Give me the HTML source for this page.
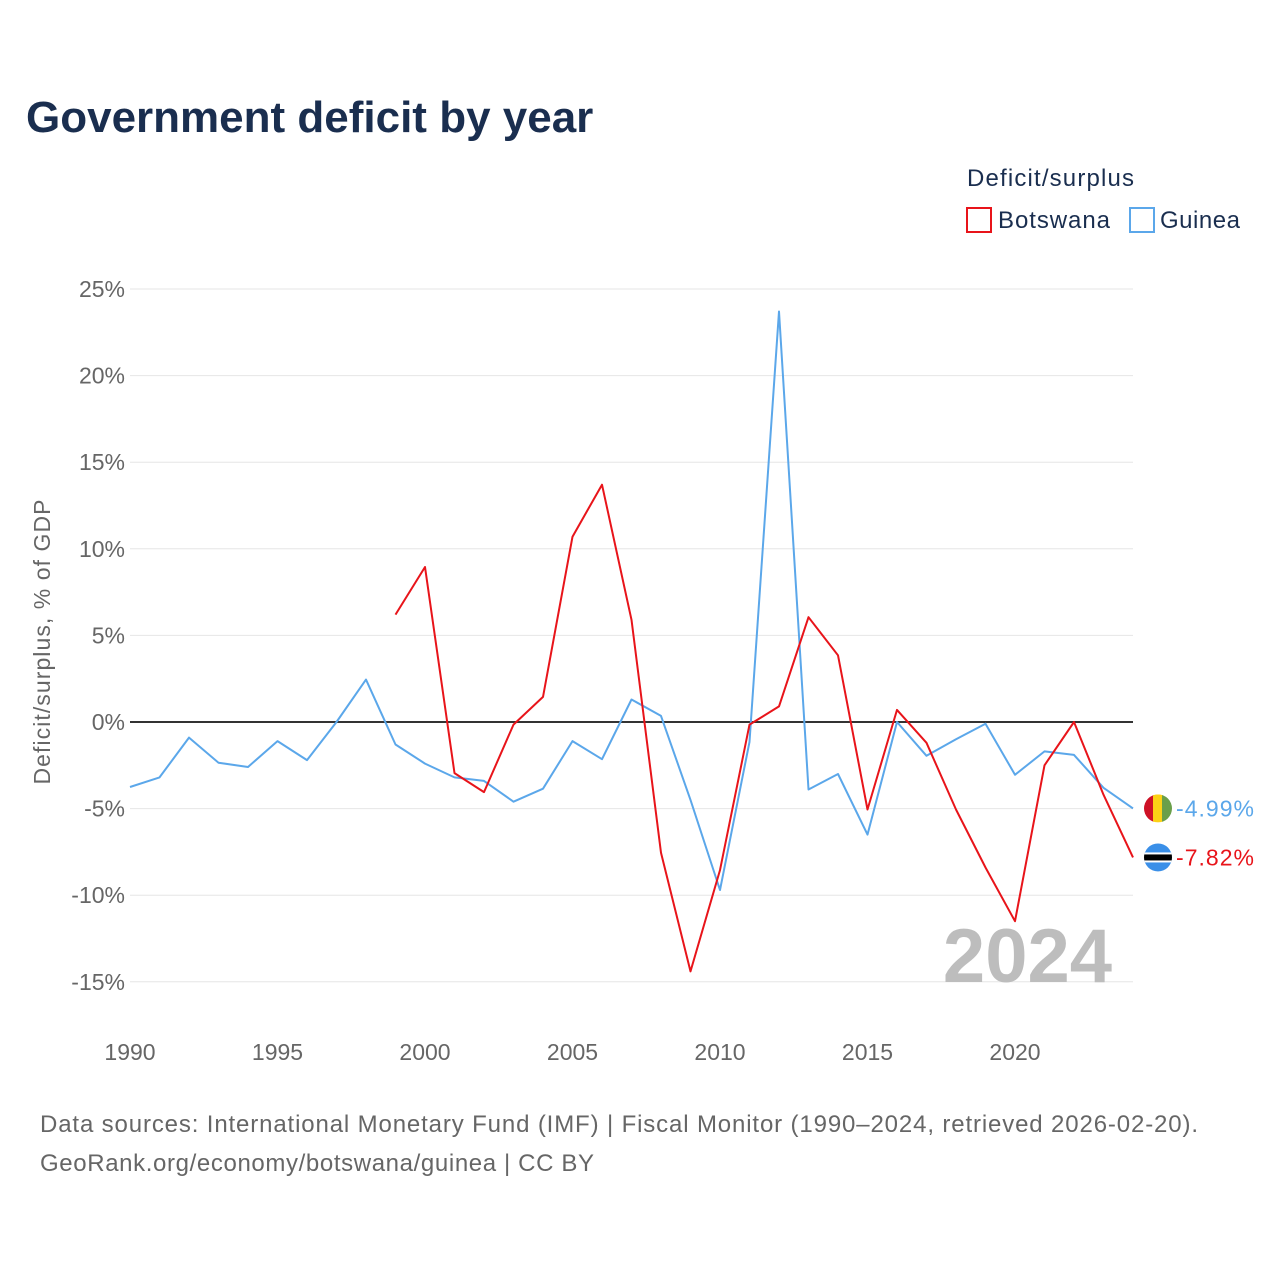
<!DOCTYPE html>
<html><head><meta charset="utf-8">
<style>
body{margin:0;background:#fff;font-family:"Liberation Sans",sans-serif;}
#wrap{position:relative;width:1280px;height:1280px;}
</style></head>
<body>
<div id="wrap">
<svg id="chart" width="1280" height="1280" xmlns="http://www.w3.org/2000/svg">
<text x="26" y="132" font-size="44" font-weight="bold" fill="#1a2e4f">Government deficit by year</text>
<text x="967" y="186" font-size="24" fill="#1a2e4f" textLength="167">Deficit/surplus</text>
<g><rect x="967" y="208" width="24" height="24" fill="none" stroke="#e8141a" stroke-width="2"/><text x="998" y="228" font-size="24" fill="#1a2e4f" textLength="112">Botswana</text></g>
<g><rect x="1130" y="208" width="24" height="24" fill="none" stroke="#5ba7ea" stroke-width="2"/><text x="1160" y="228" font-size="24" fill="#1a2e4f" textLength="80">Guinea</text></g>
<text transform="translate(50,642) rotate(-90)" text-anchor="middle" font-size="23" fill="#666" textLength="285">Deficit/surplus, % of GDP</text>
<g id="grid"></g><g id="yt"></g><g id="xt"></g>
<text x="1112" y="982" text-anchor="end" font-size="76" font-weight="bold" fill="#bdbdbd">2024</text>
<g id="series"></g>
<text x="40" y="1132" font-size="24" fill="#666" textLength="1158">Data sources: International Monetary Fund (IMF) | Fiscal Monitor (1990–2024, retrieved 2026-02-20).</text>
<text x="40" y="1171" font-size="24" fill="#666" textLength="554">GeoRank.org/economy/botswana/guinea | CC BY</text>
</svg>
</div>
<script>
const years=[];for(let y=1990;y<=2024;y++)years.push(y);
const guinea=[-3.75,-3.2,-0.9,-2.35,-2.6,-1.1,-2.2,0,2.45,-1.3,-2.4,-3.2,-3.4,-4.6,-3.85,-1.1,-2.15,1.3,0.35,-4.5,-9.7,-1.15,23.7,-3.9,-3.0,-6.5,0,-1.95,-1.0,-0.1,-3.05,-1.7,-1.9,-3.8,-4.99];
const botswana=[null,null,null,null,null,null,null,null,null,6.2,8.95,-2.95,-4.05,-0.15,1.45,10.7,13.7,5.9,-7.55,-14.4,-8.55,-0.15,0.9,6.05,3.85,-5.05,0.7,-1.2,-5.05,-8.4,-11.5,-2.5,0.0,-4.2,-7.82];
const yTicks=[25,20,15,10,5,0,-5,-10,-15];
const xTicks=[1990,1995,2000,2005,2010,2015,2020];
const NS="http://www.w3.org/2000/svg";
const X=y=>130+(y-1990)*(1133-130)/34;
const Y=v=>722-v*(433/25);
function mk(t,a,p){const e=document.createElementNS(NS,t);for(const k in a)e.setAttribute(k,a[k]);p.appendChild(e);return e;}
const grid=document.getElementById('grid'),yt=document.getElementById('yt'),xt=document.getElementById('xt'),ser=document.getElementById('series');
yTicks.forEach(v=>{
 const l=mk('line',{x1:130,x2:1133,y1:Y(v),y2:Y(v),stroke:v===0?'#333':'#e6e6e6','stroke-width':v===0?2:1},grid);
 
 
 const t=mk('text',{x:125,y:Y(v)+8,'text-anchor':'end','font-size':23,fill:'#666'},yt);t.textContent=v+'%';
 
 
});
xTicks.forEach(v=>{
 const t=mk('text',{x:X(v),y:1060,'text-anchor':'middle','font-size':23,fill:'#666'},xt);t.textContent=v;
 
 
});
function line(data,color,name){
 let d='';data.forEach((v,i)=>{if(v===null)return;d+=(d?'L':'M')+X(years[i]).toFixed(1)+','+Y(v).toFixed(1);});
 const p=mk('path',{d:d,fill:'none',stroke:color,'stroke-width':2,'stroke-linejoin':'round'},ser);
 
 
}
line(guinea,'#5ba7ea','guinea-line');
line(botswana,'#e8141a','botswana-line');
function endLabel(v,color,name,flag){
 const y=Y(v);
 const g=mk('g',{},ser);
 
 
 if(flag==='gn'){
  mk('clipPath',{id:'cg'},g);mk('circle',{cx:1158,cy:y,r:14},g.lastChild);
  const f=mk('g',{'clip-path':'url(#cg)'},g);
  mk('rect',{x:1144,y:y-14,width:10,height:28,fill:'#ce1126'},f);
  mk('rect',{x:1153,y:y-14,width:10,height:28,fill:'#fcd116'},f);
  mk('rect',{x:1162,y:y-14,width:10,height:28,fill:'#6a9f4a'},f);
 }else{
  mk('clipPath',{id:'cb'},g);mk('circle',{cx:1158,cy:y,r:14},g.lastChild);
  const f=mk('g',{'clip-path':'url(#cb)'},g);
  mk('rect',{x:1144,y:y-14,width:28,height:28,fill:'#3a8fe8'},f);
  mk('rect',{x:1144,y:y-5,width:28,height:10,fill:'#fff'},f);
  mk('rect',{x:1144,y:y-3,width:28,height:6,fill:'#000'},f);
 }
 const t=mk('text',{x:1176,y:y+8,'font-size':23,fill:color,textLength:78},g);t.textContent=v.toFixed(2)+'%';
}
endLabel(guinea[guinea.length-1],'#5ba7ea','guinea-end-label','gn');
endLabel(botswana[botswana.length-1],'#e8141a','botswana-end-label','bw');
</script>
</body></html>
